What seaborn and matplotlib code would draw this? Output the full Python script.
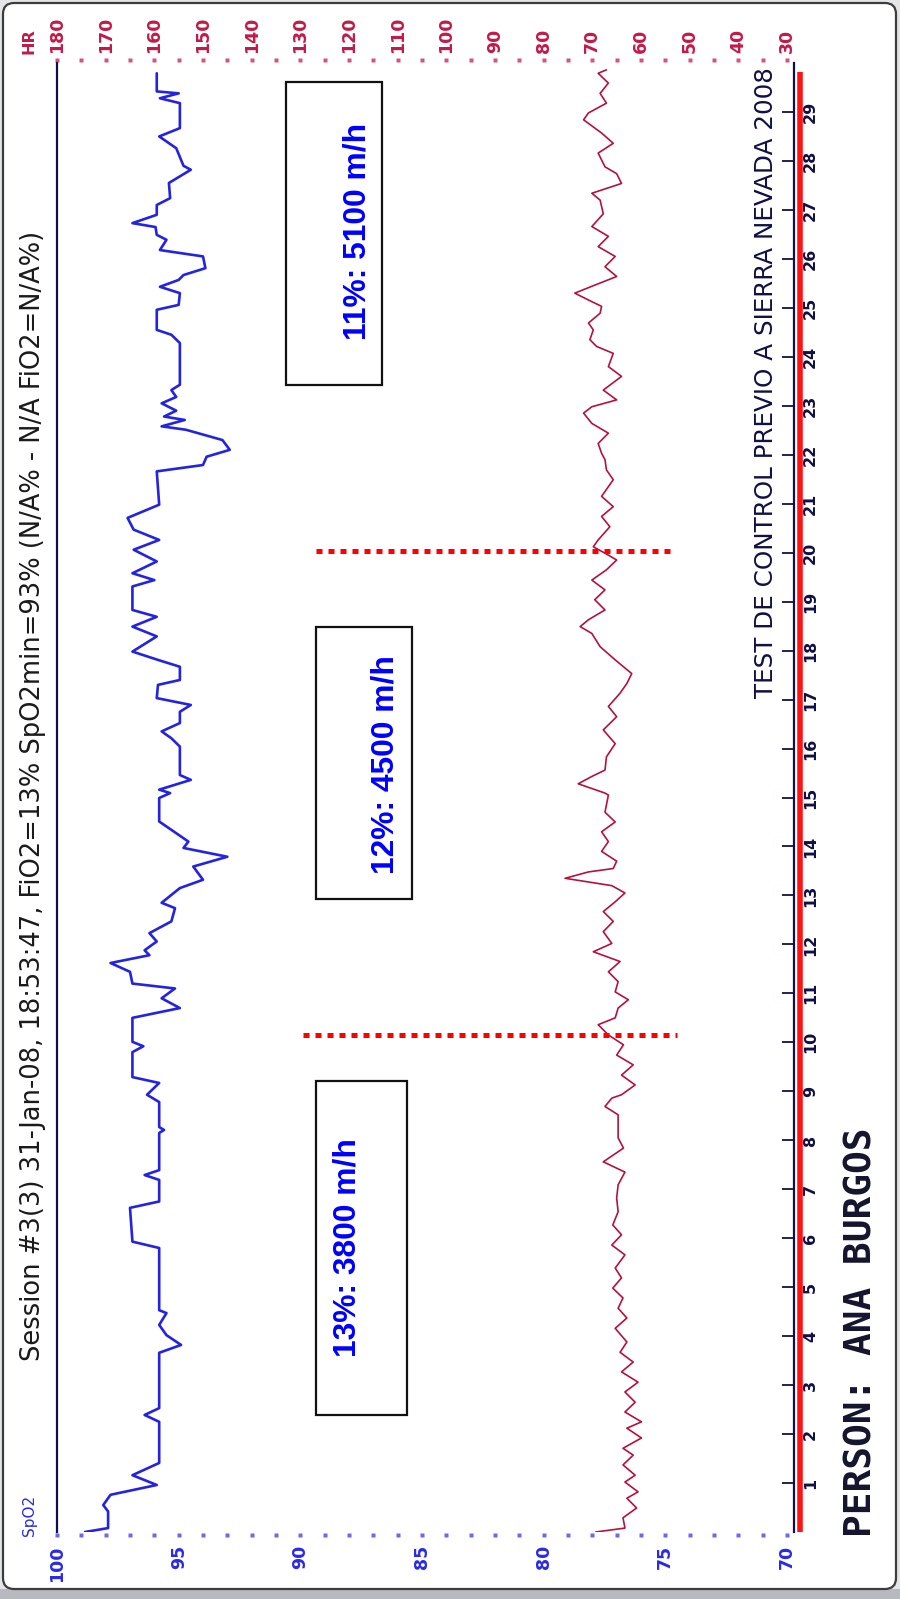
import numpy as np
import pandas as pd
import matplotlib
matplotlib.use("Agg")
import matplotlib.pyplot as plt
import matplotlib.transforms as mtransforms
from matplotlib.patches import FancyBboxPatch, Rectangle
import seaborn as sns

# ---------------------------------------------------------------- data
title = "Session #3(3) 31-Jan-08, 18:53:47, FiO2=13% SpO2min=93% (N/A% - N/A FiO2=N/A%)"
subtitle = "TEST DE CONTROL PREVIO A SIERRA NEVADA 2008"
person = "PERSON: ANA BURGOS"

time_ticks = list(range(1, 30))
spo2_ticks = [100, 95, 90, 85, 80, 75, 70]
hr_ticks = list(range(180, 29, -10))

# SpO2 trace (minutes, %)
spo2_time = [0.00, 0.08, 0.42, 0.55, 0.76, 0.96, 1.16, 1.41, 2.25, 2.39, 2.53, 3.66, 3.82, 4.02,
             4.23, 4.47, 4.53, 5.80, 5.93, 6.62, 6.75, 7.19, 7.29, 7.39, 8.15, 8.21, 8.27, 8.78,
             8.93, 9.17, 9.29, 9.80, 9.92, 10.01, 10.50, 10.70, 10.90, 11.10, 11.20, 11.44, 11.62,
             11.78, 11.88, 12.06, 12.23, 12.47, 12.74, 12.85, 13.15, 13.32, 13.59, 13.79, 13.97,
             14.10, 14.51, 14.99, 15.09, 15.16, 15.36, 15.46, 16.04, 16.21, 16.35, 16.52, 16.75,
             16.89, 17.03, 17.30, 17.40, 17.67, 17.81, 17.98, 18.29, 18.49, 18.69, 18.83, 19.31,
             19.44, 19.58, 19.82, 20.06, 20.26, 20.47, 20.71, 20.98, 21.66, 21.79, 21.96, 22.10,
             22.30, 22.51, 22.58, 22.71, 22.78, 22.90, 23.05, 23.18, 23.32, 23.43, 24.28, 24.45,
             24.55, 24.96, 25.06, 25.30, 25.43, 25.57, 25.67, 25.81, 26.05, 26.18, 26.39, 26.49,
             26.65, 26.73, 26.90, 27.10, 27.24, 27.55, 27.82, 27.90, 28.26, 28.50, 28.67, 29.18,
             29.28, 29.38, 29.42, 29.79]
spo2_vals = [98.85, 97.9, 97.9, 98.1, 97.8, 95.9, 96.9, 95.8, 95.8, 96.4, 95.8, 95.8, 94.9, 95.5,
             95.8, 95.5, 95.8, 95.8, 96.9, 97.0, 95.8, 95.8, 96.4, 95.8, 95.8, 95.6, 95.8, 95.8,
             96.3, 95.8, 96.9, 96.9, 96.45, 96.9, 96.9, 94.95, 95.7, 95.15, 96.9, 97.0, 97.8,
             96.2, 96.4, 95.9, 96.2, 95.3, 95.15, 95.7, 94.95, 94.0, 94.4, 93.0, 94.8,
             94.6, 95.8, 95.8, 95.35, 95.8, 94.5, 94.95, 94.95, 95.3, 95.7, 94.95, 94.95,
             94.5, 95.9, 95.85, 94.95, 94.95, 95.85, 96.9, 95.9, 96.9, 95.9, 96.9, 96.9,
             96.0, 96.9, 95.9, 96.85, 95.8, 96.85, 97.1, 95.8, 95.9, 94.0, 93.85, 92.9,
             93.2, 94.7, 95.7, 94.75, 95.6, 95.1, 95.7, 95.1, 95.3, 94.95, 94.95, 95.3,
             95.9, 95.9, 95.0, 94.95, 95.77, 95.0, 94.8, 93.9, 94.0, 95.77, 95.5, 95.9,
             95.95, 96.9, 95.9, 95.9, 95.35, 95.4, 94.5, 94.8, 95.1, 95.8, 94.95, 94.95,
             95.77, 95.0, 95.9, 95.9]

# Heart-rate trace (minutes, bpm)
hr_time = [0.00, 0.08, 0.29, 0.49, 0.69, 0.82, 1.02, 1.16, 1.37, 1.57, 1.71, 1.92, 2.12, 2.25,
           2.45, 2.65, 2.86, 3.06, 3.27, 3.47, 3.67, 3.88, 4.16, 4.37, 4.57, 4.78, 4.98, 5.19,
           5.39, 5.66, 5.86, 6.07, 6.27, 6.54, 6.82, 7.09, 7.35, 7.56, 7.84, 8.05, 8.52, 8.69,
           8.86, 8.93, 9.13, 9.33, 9.54, 9.74, 9.95, 10.15, 10.36, 10.50, 10.70, 10.87, 11.03,
           11.24, 11.44, 11.65, 11.85, 12.02, 12.26, 12.47, 12.67, 12.87, 13.05, 13.20, 13.35,
           13.48, 13.55, 13.70, 13.90, 14.10, 14.30, 14.50, 14.70, 15.05, 15.09, 15.28, 15.43,
           15.56, 15.83, 16.10, 16.38, 16.65, 16.86, 17.13, 17.33, 17.53, 17.81, 18.08, 18.35,
           18.49, 18.63, 18.83, 19.04, 19.24, 19.44, 19.65, 19.85, 19.99, 20.12, 20.26, 20.53,
           20.74, 20.94, 21.15, 21.35, 21.49, 21.69, 21.90, 22.03, 22.23, 22.44, 22.64, 22.85,
           22.98, 23.12, 23.32, 23.60, 23.80, 24.07, 24.21, 24.35, 24.55, 24.69, 24.89, 25.03,
           25.16, 25.30, 25.44, 25.64, 25.84, 26.05, 26.25, 26.46, 26.66, 26.92, 27.20, 27.34,
           27.54, 27.74, 27.88, 28.16, 28.36, 28.57, 28.84, 28.98, 29.18, 29.38, 29.59, 29.79,
           29.86]
hr_vals = [69.3, 63.3, 63.7, 60.9, 62.9, 60.6, 63.3, 61.2, 63.7, 61.6, 63.7, 59.9, 62.9, 59.9,
           63.3, 61.2, 63.3, 60.6, 64.0, 61.6, 64.3, 62.9, 65.3, 62.9, 64.7, 63.7, 65.8, 64.0,
           65.3, 63.3, 66.0, 64.0, 65.8, 64.7, 65.0, 64.7, 63.3, 67.75, 63.6, 64.7, 64.7, 67.4,
           66.0, 64.0, 61.2, 64.0, 61.6, 65.0, 63.6, 66.7, 68.8, 65.3, 64.7, 62.6, 65.3,
           64.7, 66.7, 64.3, 69.8, 66.0, 67.75, 65.7, 67.75, 65.3, 63.3, 66.0, 75.6,
           70.8, 65.7, 65.0, 68.1, 66.7, 68.1, 65.3, 67.4, 66.7, 67.4, 72.9, 70.1,
           67.4, 67.1, 65.3, 67.75, 65.0, 66.7, 64.3, 62.9, 61.9, 65.3, 68.4, 70.1,
           72.5, 70.8, 67.4, 69.5, 67.4, 70.1, 67.1, 65.0, 67.4, 69.8, 68.8, 66.4,
           68.1, 65.7, 68.1, 66.7, 65.7, 67.1, 67.4, 68.1, 68.8, 66.7, 70.1, 71.8,
           70.1, 65.0, 67.75, 64.0, 66.7, 65.7, 69.1, 70.5, 69.8, 70.8, 68.4, 68.1,
           70.8, 73.6, 70.1, 65.0, 67.4, 65.3, 68.8, 66.7, 70.1, 67.75, 68.4, 70.1,
           64.0, 65.0, 67.4, 68.8, 65.7, 68.1, 71.8, 70.8, 67.1, 68.4, 66.7, 68.8,
           67.1]

# Phase markers (minute, SpO2 span) and phase labels
phase_times = [10.15, 20.04]
phase_from = [89.9, 89.35]
phase_to = [74.5, 74.56]
phase_labels = ["13%: 3800 m/h", "12%: 4500 m/h", "11%: 5100 m/h"]

# ---------------------------------------------------------------- style
BLUE = "#2a2ae6"
BLUE_LINE = "#2323e0"
CRIMSON = "#c21a48"
CRIMSON_LINE = "#b3123e"
NAVY = "#101046"

sns.set_style("white")
plt.rcParams["font.family"] = ["DejaVu Sans"]

W, H, DPI = 900, 1599, 100
fig = plt.figure(figsize=(W / DPI, H / DPI), dpi=DPI, facecolor="#e4e5e7")

# pixel coordinates measured from the top-left corner
pix = (mtransforms.Affine2D().scale(1, -1).translate(0, H)
       + mtransforms.Affine2D().scale(1 / W, 1 / H) + fig.transFigure)

# window frame
fig.patches.append(Rectangle((0, 1589), W, 10, transform=pix, facecolor="#b6bac0",
                             edgecolor="none", zorder=-3))
fig.patches.append(FancyBboxPatch((3, 3), 893, 1586, boxstyle="round,pad=0,rounding_size=11",
                                  transform=pix, facecolor="white", edgecolor="#3c3c3c",
                                  linewidth=1.6, zorder=-2))

# ---------------------------------------------------------------- axes
left, right, top, bottom = 57, 794, 63, 1532
ax = fig.add_axes([left / W, 1 - bottom / H, (right - left) / W, (bottom - top) / H])
ax2 = ax.twiny()

spo2_df = pd.DataFrame({"minute": spo2_time, "SpO2": spo2_vals})
hr_df = pd.DataFrame({"minute": hr_time, "HR": hr_vals})

sns.lineplot(data=spo2_df, x="SpO2", y="minute", ax=ax, orient="y", sort=False,
             estimator=None, color=BLUE_LINE, linewidth=1.9)
sns.lineplot(data=hr_df, x="HR", y="minute", ax=ax2, orient="y", sort=False,
             estimator=None, color=CRIMSON_LINE, linewidth=1.2)

ax.set_xlim(100, 69.71)
ax.set_ylim(0, 30)
ax2.set_xlim(180, 28.56)
for a in (ax, ax2):
    a.set_xlabel("")
    a.set_ylabel("")

ax.set_zorder(2)
ax2.set_zorder(1)
ax.patch.set_visible(False)
ax2.patch.set_visible(False)

for name, sp in ax.spines.items():
    if name in ("left", "right"):
        sp.set_color(NAVY)
        sp.set_linewidth(1.6)
    else:
        sp.set_visible(False)
for sp in ax2.spines.values():
    sp.set_visible(False)

# time axis on the right
ax.yaxis.tick_right()
ax.set_yticks(time_ticks)
ax.set_yticklabels([str(v) for v in time_ticks], rotation=90, color=NAVY,
                   fontsize=11.5, fontweight="bold")
for lbl in ax.get_yticklabels():
    lbl.set_va("center")
ax.tick_params(axis="y", direction="in", length=8.5, width=1.3, color=NAVY, pad=6.5)

# SpO2 scale along the bottom
ax.set_xticks(spo2_ticks)
ax.set_xticklabels([str(v) for v in spo2_ticks], rotation=90, color=BLUE,
                   fontsize=12.5, fontweight="bold")
ax.tick_params(axis="x", length=0, pad=9.5)
spo2_dots = np.arange(100, 69, -1)
ax.plot(spo2_dots, np.full(len(spo2_dots), -0.0022), ls="none", marker="s", ms=2.6,
        color="#6b6be6", mec="none", transform=ax.get_xaxis_transform(), clip_on=False)

# HR scale along the top
ax2.set_xticks(hr_ticks)
ax2.set_xticklabels([str(v) for v in hr_ticks], rotation=90, color=CRIMSON,
                    fontsize=12.5, fontweight="bold")
ax2.tick_params(axis="x", length=0, pad=7)
hr_dots = np.arange(180, 29, -5)
ax2.plot(hr_dots, np.full(len(hr_dots), 1.002), ls="none", marker="s", ms=2.6,
         color="#d2557a", mec="none", transform=ax2.get_xaxis_transform(), clip_on=False)

# red baseline next to the time axis
ax.plot([1.008, 1.008], [0, 29.82], transform=ax.get_yaxis_transform(), color="#ff1414",
        lw=4.0, solid_capstyle="butt", clip_on=False, zorder=1)

# phase change markers
for t, x0, x1 in zip(phase_times, phase_from, phase_to):
    ax.plot([x0, x1], [t, t], color="#ff0000", lw=3.6, dashes=(1.2, 1.2),
            dash_capstyle="butt", zorder=4)

# ---------------------------------------------------------------- annotations
boxes = [(316, 1081, 91, 334), (316, 627, 96, 272), (286, 82, 96, 303)]
label_pos = [(348, 1248), (386, 765), (358, 231)]
label_texts = []
for (bx, by, bw, bh), (tx, ty), txt in zip(boxes, label_pos, phase_labels):
    fig.patches.append(Rectangle((bx, by), bw, bh, transform=pix, facecolor="white",
                                 edgecolor="#111111", linewidth=1.6, zorder=5))
    label_texts.append(fig.text(tx, ty, txt, transform=pix, rotation=90, ha="center",
                                va="center", color="#0000ff", fontsize=22,
                                fontweight="bold", family="Liberation Sans", zorder=6))

t_title = fig.text(33, 1361, title, transform=pix, rotation=90, ha="center", va="bottom",
                   color="#1a1a1a", fontsize=16)
t_sub = fig.text(766, 67, subtitle, transform=pix, rotation=90, ha="center", va="top",
                 color=NAVY, fontsize=14)
t_person = fig.text(861, 1537, person, transform=pix, rotation=90, ha="center",
                    va="bottom", color="#14142e", fontsize=20, fontweight="bold",
                    family="DejaVu Sans Mono")
t_spo2 = fig.text(29, 1536, "SpO2", transform=pix, rotation=90, ha="center", va="bottom",
                  color=BLUE, fontsize=11)
t_hr = fig.text(29, 54, "HR", transform=pix, rotation=90, ha="center", va="bottom",
                color=CRIMSON, fontsize=11.5, fontweight="bold")

renderer = fig.canvas.get_renderer()


def fit_length(txt, length):
    bb = txt.get_window_extent(renderer=renderer)
    txt.set_fontsize(txt.get_fontsize() * length / bb.height)


fit_length(t_title, 1132)
fit_length(t_sub, 631)
fit_length(t_person, 410)
fit_length(label_texts[0], 219)
for lt in label_texts[1:]:
    lt.set_fontsize(label_texts[0].get_fontsize())

fig.savefig("out.png", dpi=DPI, facecolor=fig.get_facecolor())
